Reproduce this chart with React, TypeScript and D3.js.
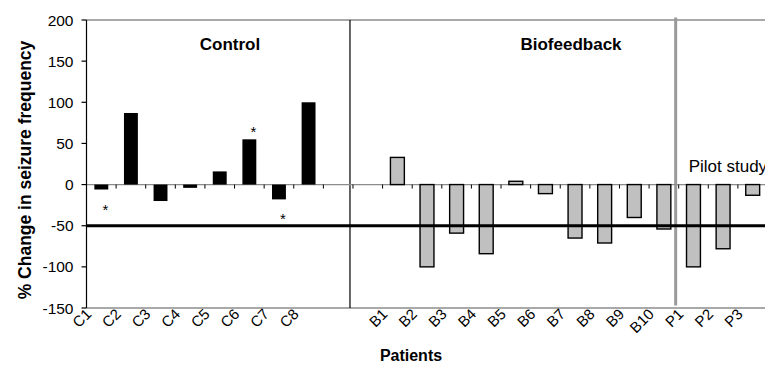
import React from 'react';
import * as d3 from 'd3';

// values
const controlPatients = ['C1', 'C2', 'C3', 'C4', 'C5', 'C6', 'C7', 'C8'];
const controlChange = [-6, 87, -20, -4, 16, 55, -18, 100];
const biofeedbackPatients = ['B1', 'B2', 'B3', 'B4', 'B5', 'B6', 'B7', 'B8', 'B9', 'B10'];
const biofeedbackChange = [33, -100, -59, -84, 4, -11, -65, -71, -40, -54];
const pilotPatients = ['P1', 'P2', 'P3'];
const pilotChange = [-100, -78, -13];
const gapSlots = ['gap1', 'gap2'];
const yTicks = [-150, -100, -50, 0, 50, 100, 150, 200];
const threshold = -50;
// asterisks: patient and the value where the star sits
const starPatients = ['C1', 'C6', 'C7'];
const starValues = [-27, 68, -38];

const W = 765;
const H = 368;
const font = 'Arial, "Liberation Sans", sans-serif';

export default function App() {
  const categories = [...controlPatients, ...gapSlots, ...biofeedbackPatients, ...pilotPatients];

  const x = d3
    .scaleBand<string>()
    .domain(categories)
    .range([86.5, 767.5])
    .paddingInner(0.53)
    .paddingOuter(0.265);
  const y = d3.scaleLinear().domain([-150, 200]).range([308, 20]);

  const step = x.step();
  const edge = (c: string) => (x(c) as number) - (step * x.paddingInner()) / 2;
  const mid = (c: string) => (x(c) as number) + x.bandwidth() / 2;

  const control = controlPatients.map((p, i) => ({ p, v: controlChange[i] }));
  const treated = [
    ...biofeedbackPatients.map((p, i) => ({ p, v: biofeedbackChange[i] })),
    ...pilotPatients.map((p, i) => ({ p, v: pilotChange[i] })),
  ];

  const left = x.range()[0];
  const y0 = y(0);
  const divider1 = edge('gap2') - 3;
  const divider2 = edge('P1') - 3;

  return (
    <svg
      width={W}
      height={H}
      style={{ position: 'absolute', left: 0, top: 0, background: '#fff' }}
      fontFamily={font}
    >
      {/* plot frame */}
      <line x1={left} x2={W} y1={y(200)} y2={y(200)} stroke="#8c8c8c" strokeWidth={1.5} />
      <line x1={left} x2={W} y1={y(-150)} y2={y(-150)} stroke="#8c8c8c" strokeWidth={1.5} />

      {/* dividers */}
      <line x1={divider1} x2={divider1} y1={y(200)} y2={y(-150)} stroke="#000" strokeWidth={1.2} />
      <line
        x1={divider2}
        x2={divider2}
        y1={y(200) - 2.5}
        y2={y(-150) - 2.5}
        stroke="#9a9a9a"
        strokeWidth={3}
      />

      {/* zero axis with ticks */}
      <line x1={left} x2={W} y1={y0} y2={y0} stroke="#8c8c8c" strokeWidth={1.2} />
      {categories.slice(1).map((c) => (
        <line key={'t' + c} x1={edge(c)} x2={edge(c)} y1={y0} y2={y0 + 4} stroke="#000" strokeWidth={1} />
      ))}

      {/* bars */}
      {control.map((d) => (
        <rect
          key={d.p}
          x={x(d.p)}
          width={x.bandwidth()}
          y={Math.min(y(d.v), y0)}
          height={Math.abs(y(d.v) - y0)}
          fill="#000"
        />
      ))}
      {treated.map((d) => (
        <rect
          key={d.p}
          x={x(d.p)}
          width={x.bandwidth()}
          y={Math.min(y(d.v), y0)}
          height={Math.abs(y(d.v) - y0)}
          fill="#c0c0c0"
          stroke="#000"
          strokeWidth={1.4}
        />
      ))}

      {/* -50% threshold */}
      <line x1={left} x2={W} y1={y(threshold)} y2={y(threshold)} stroke="#000" strokeWidth={3} />

      {/* significance stars */}
      {starPatients.map((p, i) => (
        <text key={'s' + p} x={mid(p) + 4} y={y(starValues[i]) + 8} fontSize={15} textAnchor="middle">
          *
        </text>
      ))}

      {/* y axis */}
      <line x1={left} x2={left} y1={y(200)} y2={y(-150)} stroke="#000" strokeWidth={1.2} />
      {yTicks.map((t) => (
        <g key={'y' + t}>
          <line x1={left - 5} x2={left} y1={y(t)} y2={y(t)} stroke="#000" strokeWidth={1.2} />
          <text x={left - 13} y={y(t) + 5.5} fontSize={15.5} textAnchor="end">
            {t}
          </text>
        </g>
      ))}

      {/* x labels */}
      {categories
        .filter((c) => !gapSlots.includes(c))
        .map((c) => (
          <text
            key={'x' + c}
            fontSize={15}
            textAnchor="end"
            transform={`translate(${mid(c) - 9},${y(-150) + 7}) rotate(-45)`}
          >
            {c}
          </text>
        ))}

      {/* group labels */}
      <text x={230} y={50} fontSize={17} fontWeight="bold" textAnchor="middle">
        Control
      </text>
      <text x={571} y={50} fontSize={17} fontWeight="bold" textAnchor="middle">
        Biofeedback
      </text>
      <text x={divider2 + 13} y={172} fontSize={17}>
        Pilot study
      </text>

      {/* axis titles */}
      <text
        transform={`translate(31,${(y(200) + y(-150)) / 2 + 6}) rotate(-90)`}
        fontSize={17.5}
        fontWeight="bold"
        textAnchor="middle"
      >
        % Change in seizure frequency
      </text>
      <text x={411} y={361} fontSize={16} fontWeight="bold" textAnchor="middle">
        Patients
      </text>
    </svg>
  );
}
